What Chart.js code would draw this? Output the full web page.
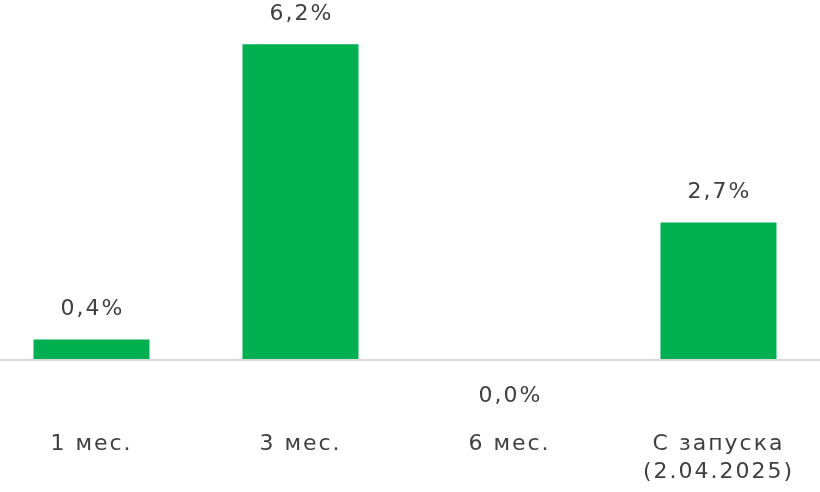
<!DOCTYPE html>
<html>
<head>
<meta charset="utf-8">
<script src="https://cdn.jsdelivr.net/npm/chart.js@4.4.1/dist/chart.umd.min.js"></script>
<style>
html,body{margin:0;padding:0;background:#fff;overflow:hidden;}
#wrap{position:absolute;left:-13px;top:0;width:836px;height:492px;}
</style>
</head>
<body>
<div id="wrap"><canvas id="c"></canvas></div>
<script>
const categories = ["1 мес.", "3 мес.", "6 мес.", ["С запуска", "(2.04.2025)"]];
const values = [0.4, 6.2, 0.0, 2.7];
const valueLabels = ["0,4%", "6,2%", "0,0%", "2,7%"];

const FONT = "'DejaVu Sans', sans-serif";
const TEXT = "#404040";
const GREEN = "#00AF50";
const SPACING = "2px";

const spacingPlugin = {
  id: 'spacing',
  beforeDraw(chart) { chart.ctx.letterSpacing = SPACING; }
};

const labelPlugin = {
  id: 'valueLabels',
  afterDatasetsDraw(chart) {
    const ctx = chart.ctx;
    const meta = chart.getDatasetMeta(0);
    const y0 = chart.scales.y.getPixelForValue(0);
    ctx.save();
    ctx.letterSpacing = SPACING;
    ctx.font = "22px " + FONT;
    ctx.fillStyle = TEXT;
    ctx.textAlign = 'center';
    ctx.textBaseline = 'middle';
    meta.data.forEach((bar, i) => {
      const v = values[i];
      const y = v > 0 ? bar.y - 30 : y0 + 36;
      ctx.fillText(valueLabels[i], bar.x + 1, y);
    });
    ctx.restore();
  }
};

new Chart(document.getElementById('c'), {
  type: 'bar',
  data: {
    labels: categories,
    datasets: [{
      data: values,
      backgroundColor: GREEN,
      borderWidth: 0,
      categoryPercentage: 1.0,
      barPercentage: 0.555
    }]
  },
  options: {
    responsive: true,
    maintainAspectRatio: false,
    animation: false,
    events: [],
    layout: { padding: 0 },
    plugins: { legend: { display: false }, tooltip: { enabled: false } },
    scales: {
      x: {
        grid: { display: false, drawTicks: false },
        border: { display: false },
        ticks: { color: TEXT, font: { family: FONT, size: 22, lineHeight: 1.27 }, padding: 6, maxRotation: 0, autoSkip: false }
      },
      y: {
        min: -1.26,
        max: 7.07,
        afterBuildTicks(scale) { scale.ticks = [{ value: 0 }]; },
        grid: { color: "#D9D9D9", lineWidth: 2, drawTicks: false },
        border: { display: false },
        ticks: { display: false }
      }
    }
  },
  plugins: [spacingPlugin, labelPlugin]
});
</script>
</body>
</html>
